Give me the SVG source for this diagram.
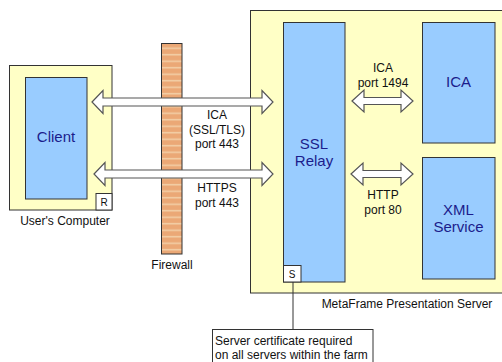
<svg xmlns="http://www.w3.org/2000/svg" width="502" height="362" viewBox="0 0 502 362">
<style>
.box{fill:#FFFFC6;stroke:#333;stroke-width:1}
.comp{fill:#99CCFF;stroke:#333;stroke-width:1}
.small{fill:#fff;stroke:#333;stroke-width:1}
.arrow{fill:#fff;stroke:#555;stroke-width:1.2;stroke-linejoin:miter}
.lbl{font-family:"Liberation Sans",Arial,sans-serif;font-size:12px;fill:#111;text-anchor:middle}
.name{font-family:"Liberation Sans",Arial,sans-serif;font-size:15px;fill:#1C1C8C;text-anchor:middle}
.tiny{font-family:"Liberation Sans",Arial,sans-serif;font-size:10px;fill:#111;text-anchor:middle}
.note{font-family:"Liberation Sans",Arial,sans-serif;font-size:12px;fill:#111}
</style>
<defs>
<pattern id="fw" x="0" y="43" width="21" height="6.5" patternUnits="userSpaceOnUse">
<rect width="21" height="6.5" fill="#EBA876"/>
<rect y="4.5" width="21" height="1.5" fill="#F3D0A8"/>
</pattern>
</defs>
<rect width="502" height="362" fill="#fff"/>
<g id="users-computer">
<rect class="box" x="9.5" y="65.5" width="102.5" height="144.5"/>
<text class="lbl" x="65" y="225">User's Computer</text>
</g>
<g id="server">
<rect class="box" x="250.5" y="10.5" width="260" height="282.5"/>
<text class="lbl" x="407" y="308">MetaFrame Presentation Server</text>
</g>
<g id="firewall">
<rect x="161.5" y="43.5" width="20.5" height="210.5" fill="url(#fw)" stroke="#333" stroke-width="1"/>
<text class="lbl" x="172" y="269">Firewall</text>
</g>
<g id="client">
<rect class="comp" x="25.5" y="77.5" width="61.5" height="121.5"/>
<text class="name" x="56" y="142">Client</text>
</g>
<g id="r-box">
<rect class="small" x="96" y="193.5" width="16" height="16.5"/>
<text class="tiny" x="104" y="205.5">R</text>
</g>
<g id="ssl-relay">
<rect class="comp" x="283.5" y="22.5" width="61.5" height="259.5"/>
<text class="name" x="314" y="149">SSL</text>
<text class="name" x="314" y="166">Relay</text>
</g>
<g id="s-box">
<rect class="small" x="283.5" y="265.5" width="17.5" height="16.5"/>
<text class="tiny" x="292" y="277.5">S</text>
</g>
<g id="ica">
<rect class="comp" x="422.5" y="22.5" width="72.5" height="120.5"/>
<text class="name" x="458.5" y="87">ICA</text>
</g>
<g id="xml-service">
<rect class="comp" x="422.5" y="157.5" width="72.5" height="121.5"/>
<text class="name" x="458.5" y="215">XML</text>
<text class="name" x="458.5" y="232">Service</text>
</g>
<g id="note">
<line x1="293" y1="282" x2="293" y2="329" stroke="#333" stroke-width="1"/>
<rect x="212.5" y="329.5" width="160.5" height="40" fill="#fff" stroke="#333" stroke-width="1"/>
<text class="note" x="215" y="345">Server certificate required</text>
<text class="note" x="215" y="359">on all servers within the farm</text>
</g>
<g id="connectors">
<path class="arrow" d="M92,102 L103,90.5 L103,98 L262,98 L262,90.5 L273,102 L262,113.5 L262,106 L103,106 L103,113.5 Z"/>
<path class="arrow" d="M94,174 L105,162.5 L105,170 L262,170 L262,162.5 L273,174 L262,185.5 L262,178 L105,178 L105,185.5 Z"/>
<path class="arrow" d="M352,101 L364,90 L364,97.5 L401,97.5 L401,90 L413,101 L401,112 L401,104.5 L364,104.5 L364,112 Z"/>
<path class="arrow" d="M351,174 L363,163 L363,170.5 L401,170.5 L401,163 L413,174 L401,185 L401,177.5 L363,177.5 L363,185 Z"/>
</g>
<g id="labels">
<text class="lbl" x="217" y="119">ICA</text>
<text class="lbl" x="217" y="134">(SSL/TLS)</text>
<text class="lbl" x="217" y="148">port 443</text>
<text class="lbl" x="217" y="192">HTTPS</text>
<text class="lbl" x="217" y="207">port 443</text>
<text class="lbl" x="383" y="72">ICA</text>
<text class="lbl" x="383" y="87">port 1494</text>
<text class="lbl" x="383" y="199">HTTP</text>
<text class="lbl" x="383" y="214">port 80</text>
</g>
</svg>
